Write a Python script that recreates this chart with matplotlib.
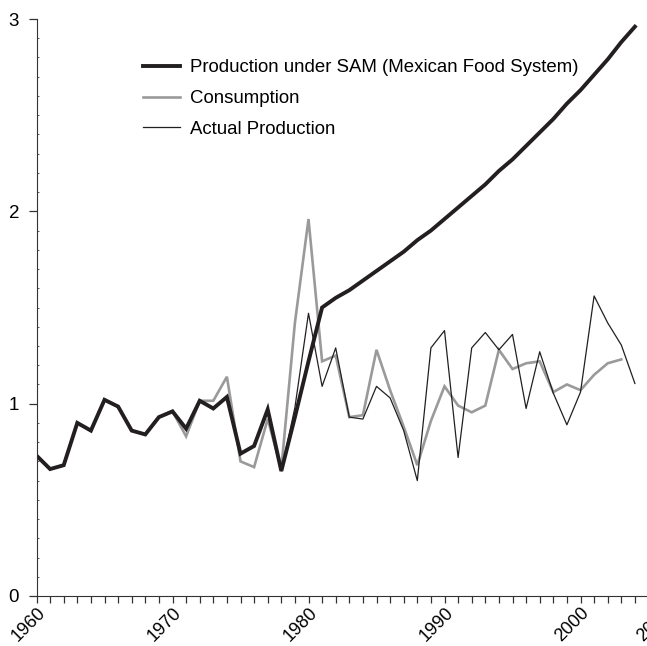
import numpy as np
import matplotlib.pyplot as plt

# values
years_actual = list(range(1960, 2005))
actual = [0.73, 0.66, 0.68, 0.90, 0.86, 1.02, 0.985, 0.86, 0.84, 0.93,
          0.96, 0.87, 1.015, 0.975, 1.035, 0.74, 0.78, 0.97, 0.65, 0.98,
          1.47, 1.09, 1.29, 0.93, 0.92, 1.09, 1.03, 0.86, 0.60, 1.29,
          1.38, 0.72, 1.29, 1.37, 1.28, 1.36, 0.975, 1.27, 1.055, 0.89,
          1.06, 1.56, 1.42, 1.305, 1.105]

years_cons = list(range(1960, 2004))
consumption = [0.73, 0.66, 0.68, 0.90, 0.86, 1.02, 0.985, 0.86, 0.84, 0.93,
               0.96, 0.83, 1.015, 1.015, 1.14, 0.70, 0.67, 0.92, 0.66, 1.42,
               1.96, 1.22, 1.25, 0.93, 0.94, 1.28, 1.07, 0.88, 0.68, 0.91,
               1.09, 0.99, 0.955, 0.99, 1.28, 1.18, 1.21, 1.22, 1.06, 1.10,
               1.07, 1.15, 1.21, 1.23]

# SAM projection, continues actual production after 1978
years_sam = list(range(1979, 2005))
sam = [0.93, 1.22, 1.50, 1.55, 1.59, 1.64, 1.69, 1.74, 1.79, 1.85,
       1.90, 1.96, 2.02, 2.08, 2.14, 2.21, 2.27, 2.34, 2.41, 2.48,
       2.56, 2.63, 2.71, 2.79, 2.88, 2.96]

tick_years = [1960, 1970, 1980, 1990, 2000, 2006]

plt.rcParams['font.family'] = ['Liberation Sans', 'DejaVu Sans']

fig = plt.figure(figsize=(6.47, 6.46), dpi=100)
# axis runs to 2006, slightly past the right edge of the figure
ax = fig.add_axes([36.5 / 647, 50 / 646, 625.6 / 647, 577 / 646])

sam_x = years_actual[:19] + years_sam
sam_y = actual[:19] + sam

ax.plot(years_cons, consumption, color='#9a9a9a', lw=1.9, zorder=1,
        label='Consumption', solid_joinstyle='miter')
ax.plot(sam_x, sam_y, color='#231f20', lw=2.8, zorder=2,
        label='Production under SAM (Mexican Food System)', solid_joinstyle='miter')
ax.plot(years_actual, actual, color='#231f20', lw=0.9, zorder=3,
        label='Actual Production')

ax.set_xlim(1960, 2006)
ax.set_ylim(0, 3)

ax.spines['top'].set_visible(False)
ax.spines['right'].set_visible(False)
ax.spines['left'].set_color('#333333')
ax.spines['bottom'].set_color('#333333')

ax.set_xticks(range(1960, 2007))
ax.set_xticklabels([str(y) if y in tick_years else '' for y in range(1960, 2007)],
                   rotation=45, ha='right', va='top', rotation_mode='anchor')
ax.tick_params(axis='x', length=5, width=0.9, color='#333333',
               labelsize=13, pad=1)

ax.set_yticks([0, 1, 2, 3])
ax.set_yticks(np.arange(0, 3.01, 0.1), minor=True)
ax.tick_params(axis='y', which='major', length=6, width=0.9,
               color='#333333', labelsize=13.5, pad=6.5)
ax.tick_params(axis='y', which='minor', direction='in', length=1.5,
               width=0.7, color='#555555')

handles, labels = ax.get_legend_handles_labels()
order = [1, 0, 2]
ax.legend([handles[i] for i in order], [labels[i] for i in order],
          loc='upper left', bbox_to_anchor=(0.170, 0.930), frameon=False,
          fontsize=13.4, handlelength=2.0, handletextpad=0.54,
          labelspacing=0.73, borderpad=0, borderaxespad=0)

plt.savefig('out.png', dpi=100)
plt.close()
